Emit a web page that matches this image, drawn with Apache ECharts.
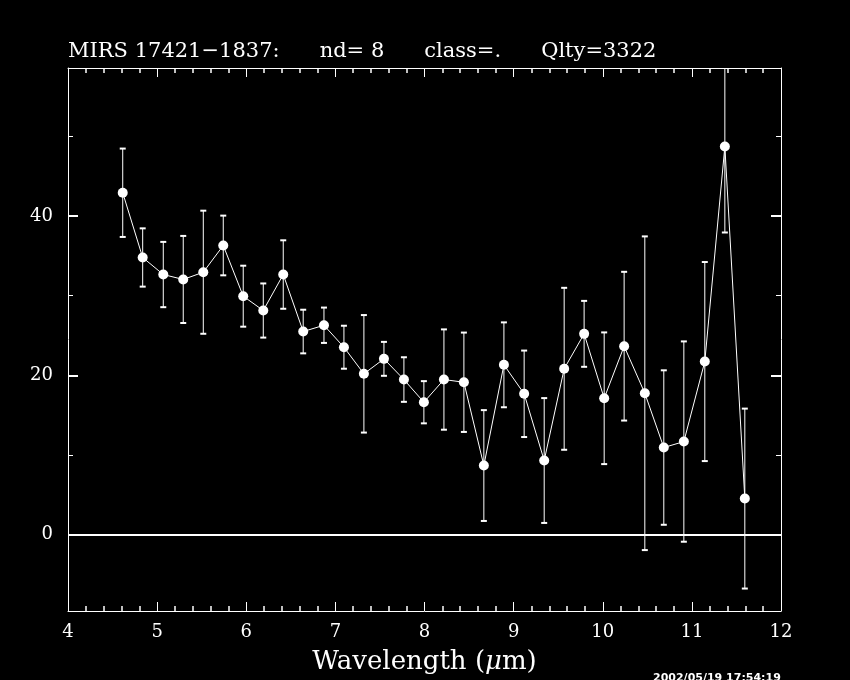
<!DOCTYPE html>
<html><head><meta charset="utf-8">
<script src="https://cdn.jsdelivr.net/npm/echarts@6/dist/echarts.min.js"></script>
<style>html,body{margin:0;padding:0;background:#000}#c{width:850px;height:680px}</style>
</head><body><div id="c"></div>
<script>
// Wavelength (micron) of each point
const wavelength = [4.614, 4.838, 5.069, 5.293, 5.518, 5.742, 5.966, 6.191, 6.415, 6.639,
  6.872, 7.096, 7.320, 7.545, 7.769, 7.993, 8.218, 8.442, 8.666, 8.891,
  9.118, 9.343, 9.567, 9.791, 10.016, 10.240, 10.472, 10.685, 10.910, 11.145,
  11.370, 11.594];
// Flux values
const flux = [42.93, 34.80, 32.66, 32.04, 32.95, 36.31, 29.94, 28.14, 32.66, 25.50,
  26.29, 23.53, 20.19, 22.07, 19.47, 16.62, 19.47, 19.13, 8.67, 21.32,
  17.68, 9.30, 20.82, 25.21, 17.12, 23.66, 17.75, 10.93, 11.68, 21.73,
  48.74, 4.52];
// Half-length of the error bars
const fluxErr = [5.55, 3.66, 4.10, 5.47, 7.73, 3.75, 3.83, 3.40, 4.30, 2.74,
  2.22, 2.70, 7.38, 2.13, 2.80, 2.65, 6.30, 6.24, 6.96, 5.33,
  5.43, 7.84, 10.17, 4.14, 8.27, 9.34, 19.70, 9.70, 12.58, 12.50,
  10.80, 11.30];
const yMajorTicks = [0, 20, 40];
const yMinorTicks = [10, 30, 50];
const titleText = 'MIRS 17421\u22121837:      nd= 8      class=.      Qlty=3322';
const xAxisName = 'Wavelength (';
const stamp = '2002/05/19 17:54:19';

const serif = 'DejaVu Serif';
const W = '#ffffff';
const points = wavelength.map((x, i) => [x, flux[i]]);
const bars = wavelength.map((x, i) => [x, flux[i] - fluxErr[i], flux[i] + fluxErr[i]]);

const yRange = {min: -9.6, max: 58.6};
function yAx(pos, ticks, len, labels, lineShow) {
  return Object.assign({
    type: 'value', position: pos, offset: 0,
    axisLine: {show: lineShow, lineStyle: {color: W, width: 1}},
    axisTick: {show: true, inside: true, length: len, customValues: ticks, lineStyle: {color: W, width: len > 6 ? 2 : 1}},
    axisLabel: labels ? {show: true, customValues: ticks, color: W, fontFamily: serif, fontSize: 18, margin: 15} : {show: false},
    splitLine: {show: false}, minorTick: {show: false}
  }, yRange);
}
function xAx(pos, labels) {
  return {
    type: 'value', position: pos, min: 4, max: 12, interval: 1,
    axisLine: {show: true, onZero: false, lineStyle: {color: W, width: 1}},
    axisTick: {show: true, inside: true, length: 9, lineStyle: {color: W, width: 1}},
    minorTick: {show: true, splitNumber: 5, length: 5, lineStyle: {color: W, width: 1.5}},
    axisLabel: labels ? {show: true, color: W, fontFamily: serif, fontSize: 18, margin: 12} : {show: false},
    splitLine: {show: false}, minorSplitLine: {show: false},
    name: labels ? '{n|' + xAxisName + '}{m|\u03bc}{n|m)}' : '',
    nameLocation: 'middle', nameGap: 38,
    nameTextStyle: {rich: {
      n: {color: W, fontFamily: serif, fontSize: 26},
      m: {color: W, fontFamily: serif, fontSize: 26, fontStyle: 'italic'}
    }}
  };
}

const chart = echarts.init(document.getElementById('c'), null, {renderer: 'canvas'});
chart.setOption({
  backgroundColor: '#000',
  animation: false,
  title: {text: titleText, left: 68, top: 41, padding: 0,
    textStyle: {color: W, fontFamily: serif, fontSize: 21, fontWeight: 'normal'}},
  grid: {left: 68, right: 69, top: 68, bottom: 69, containLabel: false, outerBoundsMode: 'none'},
  xAxis: [xAx('bottom', true), xAx('top', false)],
  yAxis: [yAx('left', yMajorTicks, 10, true, true), yAx('left', yMinorTicks, 5, false, false),
          yAx('right', yMajorTicks, 10, false, true), yAx('right', yMinorTicks, 5, false, false)],
  graphic: [{type: 'text', left: 653, top: 673,
    style: {text: stamp, fill: W, font: 'bold 11px "DejaVu Sans"'}}],
  series: [
    {type: 'custom', xAxisIndex: 0, yAxisIndex: 0, clip: true, z: 2,
     data: bars,
     renderItem: function (params, api) {
       const lo = api.coord([api.value(0), api.value(1)]);
       const hi = api.coord([api.value(0), api.value(2)]);
       const cw = 3;
       const st = {stroke: W, lineWidth: 1};
       return {type: 'group', children: [
         {type: 'line', shape: {x1: lo[0], y1: lo[1], x2: hi[0], y2: hi[1]}, style: st},
         {type: 'line', shape: {x1: lo[0] - cw, y1: lo[1], x2: lo[0] + cw, y2: lo[1]}, style: {stroke: W, lineWidth: 2}},
         {type: 'line', shape: {x1: hi[0] - cw, y1: hi[1], x2: hi[0] + cw, y2: hi[1]}, style: {stroke: W, lineWidth: 2}}
       ]};
     }},
    {type: 'line', xAxisIndex: 0, yAxisIndex: 0, data: points, z: 3,
     symbol: 'circle', symbolSize: 10, showSymbol: true,
     itemStyle: {color: W}, lineStyle: {color: W, width: 1},
     markLine: {silent: true, symbol: 'none', label: {show: false},
       lineStyle: {color: W, width: 2, type: 'solid'}, data: [{yAxis: 0}]}}
  ]
});
</script></body></html>
